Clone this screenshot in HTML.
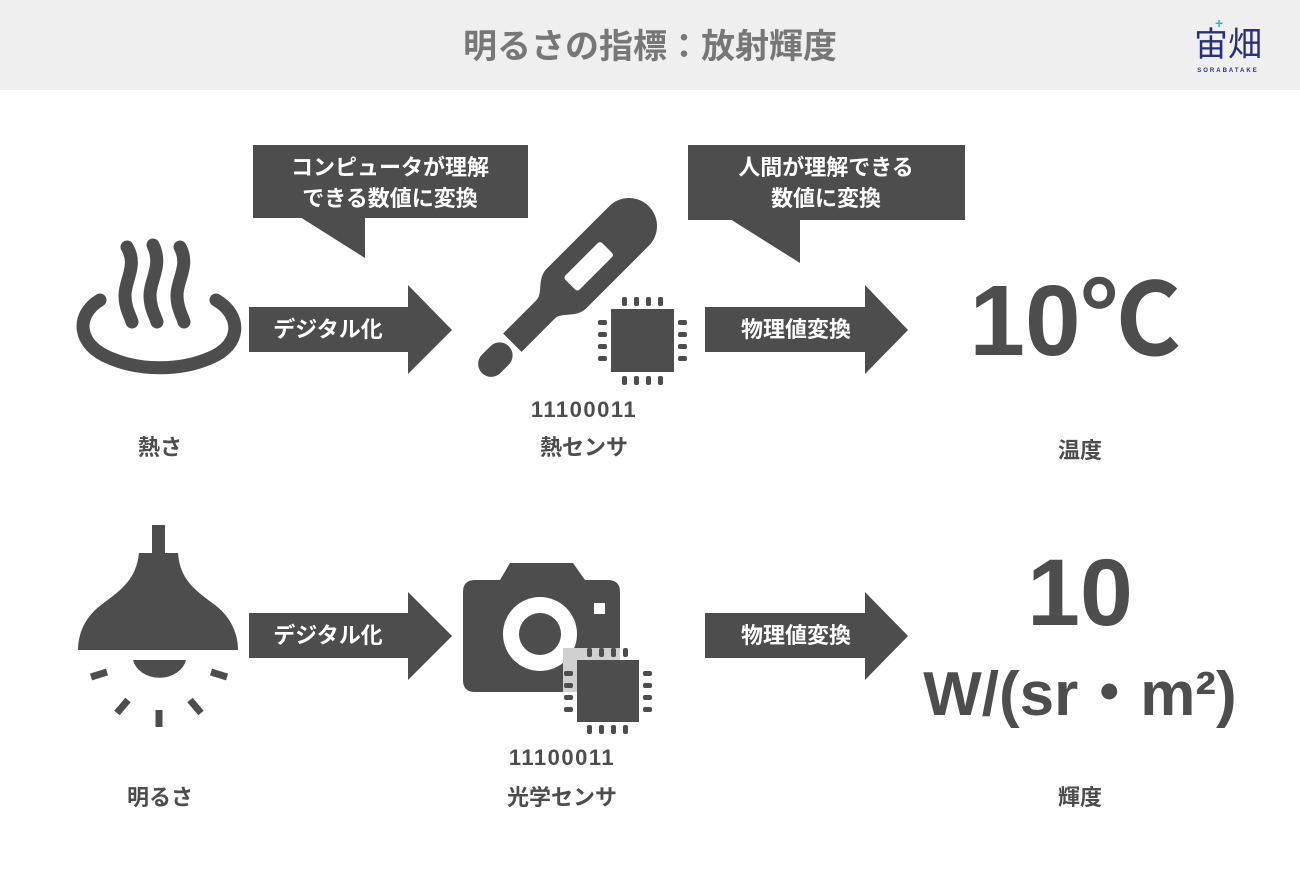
<!DOCTYPE html>
<html><head><meta charset="utf-8"><style>
body{margin:0;width:1300px;height:869px;background:#fff;overflow:hidden}
svg text{font-family:"Liberation Sans","Noto Sans CJK JP",sans-serif;font-weight:bold}
</style></head><body>
<svg width="1300" height="869" viewBox="0 0 1300 869" xmlns="http://www.w3.org/2000/svg">
<rect width="1300" height="90" fill="#efefef"/>
<text x="650" y="58" font-size="34" fill="#777" text-anchor="middle">明るさの指標：放射輝度</text>
<text x="1228" y="56" font-size="34" fill="#2a2f7a" text-anchor="middle" style="font-weight:normal">宙畑</text>
<text x="1228" y="72" font-size="6" fill="#2a2f7a" text-anchor="middle" letter-spacing="2">SORABATAKE</text>
<text x="1215" y="28" font-size="14" fill="#2bb5d8">+</text>

<g fill="#4d4d4d">
<rect x="253" y="145" width="275" height="73"/><polygon points="300,217 365,258 365,217"/>
<rect x="688" y="145" width="277" height="75"/><polygon points="730,219 800,263 800,219"/>
<polygon points="249,307 408,307 408,285 452,330 408,374 408,352 249,352"/>
<polygon points="705,307 865,307 865,285 908,330 865,374 865,352 705,352"/>
<polygon points="249,613 408,613 408,592 452,636 408,680 408,658 249,658"/>
<polygon points="705,613 865,613 865,592 908,636 865,680 865,658 705,658"/>
</g>
<g fill="#fff" font-size="22" text-anchor="middle">
<text x="390" y="175">コンピュータが理解</text><text x="390" y="206">できる数値に変換</text>
<text x="826" y="175">人間が理解できる</text><text x="826" y="206">数値に変換</text>
<text x="328" y="337">デジタル化</text><text x="796" y="337">物理値変換</text>
<text x="328" y="643">デジタル化</text><text x="796" y="643">物理値変換</text>
</g>

<g fill="none" stroke="#4d4d4d" stroke-width="13" stroke-linecap="round">
<path d="M100,300 C75,315 77,345 110,358 C140,371 180,371 210,358 C242,345 242,315 216,300"/>
<path d="M127,247 C138,265 125,280 125,295 C125,308 130,315 132,322"/>
<path d="M153,245 C163,265 150,280 150,295 C150,308 155,315 157,322"/>
<path d="M180,247 C190,265 177,280 177,295 C177,308 182,315 184,322"/>
</g>

<g fill="#4d4d4d" transform="translate(489,366) rotate(-45)">
<rect x="-10" y="-13" width="38" height="26" rx="13"/>
<path d="M33,-13 L80,-13 C90,-13 95,-28 110,-28 L198,-28 A28,28 0 0 1 198,28 L110,28 C95,28 90,13 80,13 L33,13Z"/>
<rect x="115" y="-10" width="52" height="20" rx="3" fill="#fff"/>
</g>
<g fill="#4d4d4d">
<rect x="611" y="309" width="63" height="63"/>
<rect x="622" y="297" width="5" height="9" rx="2"/><rect x="634" y="297" width="5" height="9" rx="2"/><rect x="646" y="297" width="5" height="9" rx="2"/><rect x="658" y="297" width="5" height="9" rx="2"/>
<rect x="622" y="376" width="5" height="9" rx="2"/><rect x="634" y="376" width="5" height="9" rx="2"/><rect x="646" y="376" width="5" height="9" rx="2"/><rect x="658" y="376" width="5" height="9" rx="2"/>
<rect x="598" y="320" width="9" height="5" rx="2"/><rect x="598" y="332" width="9" height="5" rx="2"/><rect x="598" y="344" width="9" height="5" rx="2"/><rect x="598" y="356" width="9" height="5" rx="2"/>
<rect x="678" y="320" width="9" height="5" rx="2"/><rect x="678" y="332" width="9" height="5" rx="2"/><rect x="678" y="344" width="9" height="5" rx="2"/><rect x="678" y="356" width="9" height="5" rx="2"/>
</g>

<g fill="#4d4d4d">
<rect x="152" y="525" width="13" height="30"/>
<path d="M139,553 L178,553 C180,580 195,590 215,605 C232,618 238,635 238,650 L78,650 C78,635 84,618 101,605 C121,590 136,580 139,553Z"/>
<path d="M133,660 L186,660 A27,22 0 0 1 133,660Z"/>
<g stroke="#4d4d4d" stroke-width="7">
<line x1="91" y1="677" x2="107" y2="672"/><line x1="211" y1="672" x2="227" y2="677"/>
<line x1="117" y1="713" x2="128" y2="700"/><line x1="201" y1="713" x2="190" y2="700"/>
<line x1="159" y1="710" x2="159" y2="727"/>
</g>
</g>

<g fill="#4d4d4d">
<path d="M510,563 L573,563 L585,580 L608,580 Q620,580 620,592 L620,680 Q620,692 608,692 L475,692 Q463,692 463,680 L463,592 Q463,580 475,580 L500,580Z"/>
<circle cx="540" cy="634" r="37" fill="#fff"/><circle cx="540" cy="634" r="21"/>
<rect x="594" y="603" width="11" height="11" fill="#fff"/>
<rect x="563" y="648" width="57" height="44" fill="#d0d0d0"/>
<rect x="577" y="660" width="62" height="62"/>
<rect x="587" y="648" width="5" height="9" rx="2"/><rect x="599" y="648" width="5" height="9" rx="2"/><rect x="611" y="648" width="5" height="9" rx="2"/><rect x="623" y="648" width="5" height="9" rx="2"/>
<rect x="587" y="725" width="5" height="9" rx="2"/><rect x="599" y="725" width="5" height="9" rx="2"/><rect x="611" y="725" width="5" height="9" rx="2"/><rect x="623" y="725" width="5" height="9" rx="2"/>
<rect x="564" y="671" width="9" height="5" rx="2"/><rect x="564" y="683" width="9" height="5" rx="2"/><rect x="564" y="695" width="9" height="5" rx="2"/><rect x="564" y="707" width="9" height="5" rx="2"/>
<rect x="643" y="671" width="9" height="5" rx="2"/><rect x="643" y="683" width="9" height="5" rx="2"/><rect x="643" y="695" width="9" height="5" rx="2"/><rect x="643" y="707" width="9" height="5" rx="2"/>
</g>

<g fill="#4d4d4d" text-anchor="middle">
<text x="160" y="455" font-size="22">熱さ</text>
<text x="584" y="417" font-size="22" letter-spacing="1.5">11100011</text>
<text x="584" y="455" font-size="22">熱センサ</text>
<text x="1080" y="458" font-size="22">温度</text>
<text x="1075" y="355" font-size="100">10℃</text>
<text x="1080" y="625" font-size="95">10</text>
<text x="1080" y="715" font-size="62">W/(sr・m²)</text>
<text x="160" y="805" font-size="22">明るさ</text>
<text x="562" y="765" font-size="22" letter-spacing="1.5">11100011</text>
<text x="562" y="805" font-size="22">光学センサ</text>
<text x="1080" y="805" font-size="22">輝度</text>
</g>
</svg>
</body></html>
